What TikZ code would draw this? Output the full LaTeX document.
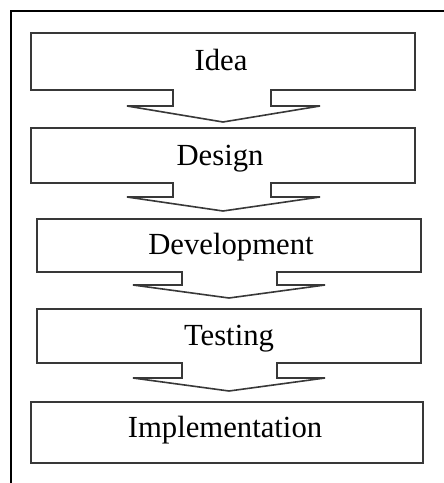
\documentclass[tikz,border=0pt]{standalone}
\usepackage{fontspec}
\setmainfont{Liberation Serif}
\begin{document}
\begin{tikzpicture}[x=1pt,y=-1pt,
  outline/.style={draw=black!78, line width=1.6pt, line join=miter, fill=white},
  lbl/.style={anchor=base, inner sep=0pt, font=\fontsize{30.7}{36}\selectfont},
  frameline/.style={draw=black, line width=1.4pt}]
\useasboundingbox (0,0) rectangle (444,483);
% outer frame (cut off on right and bottom)
\coordinate (fb) at (11,483);
\coordinate (ftl) at (11,11);
\coordinate (fr) at (444,11);
\draw[frameline] (fb) -- (ftl) -- (fr);
% box 1 with down arrow
\draw[outline] (31,33) -- (415,33) -- (415,90) -- (271,90) -- (271,106) -- (320,106)
  -- (223,122) -- (127,106) -- (173,106) -- (173,90) -- (31,90) -- cycle;
% box 2
\draw[outline] (31,128) -- (415,128) -- (415,183) -- (271,183) -- (271,197) -- (320,197)
  -- (223,211) -- (127,197) -- (173,197) -- (173,183) -- (31,183) -- cycle;
% box 3
\draw[outline] (37,219) -- (421,219) -- (421,272) -- (277,272) -- (277,285) -- (325,285)
  -- (229,298) -- (133,285) -- (182,285) -- (182,272) -- (37,272) -- cycle;
% box 4
\draw[outline] (37,309) -- (421,309) -- (421,363) -- (277,363) -- (277,378) -- (325,378)
  -- (229,391) -- (133,378) -- (182,378) -- (182,363) -- (37,363) -- cycle;
% box 5
\draw[outline] (31,402) rectangle (423,463);
% labels
\node[lbl] (idea) at (221,70) {Idea};
\node[lbl] (design) at (220,165) {Design};
\node[lbl] (dev) at (231,254) {Development};
\node[lbl] (test) at (229,345) {Testing};
\node[lbl] (impl) at (225,437) {Implementation};
\end{tikzpicture}
\end{document}
